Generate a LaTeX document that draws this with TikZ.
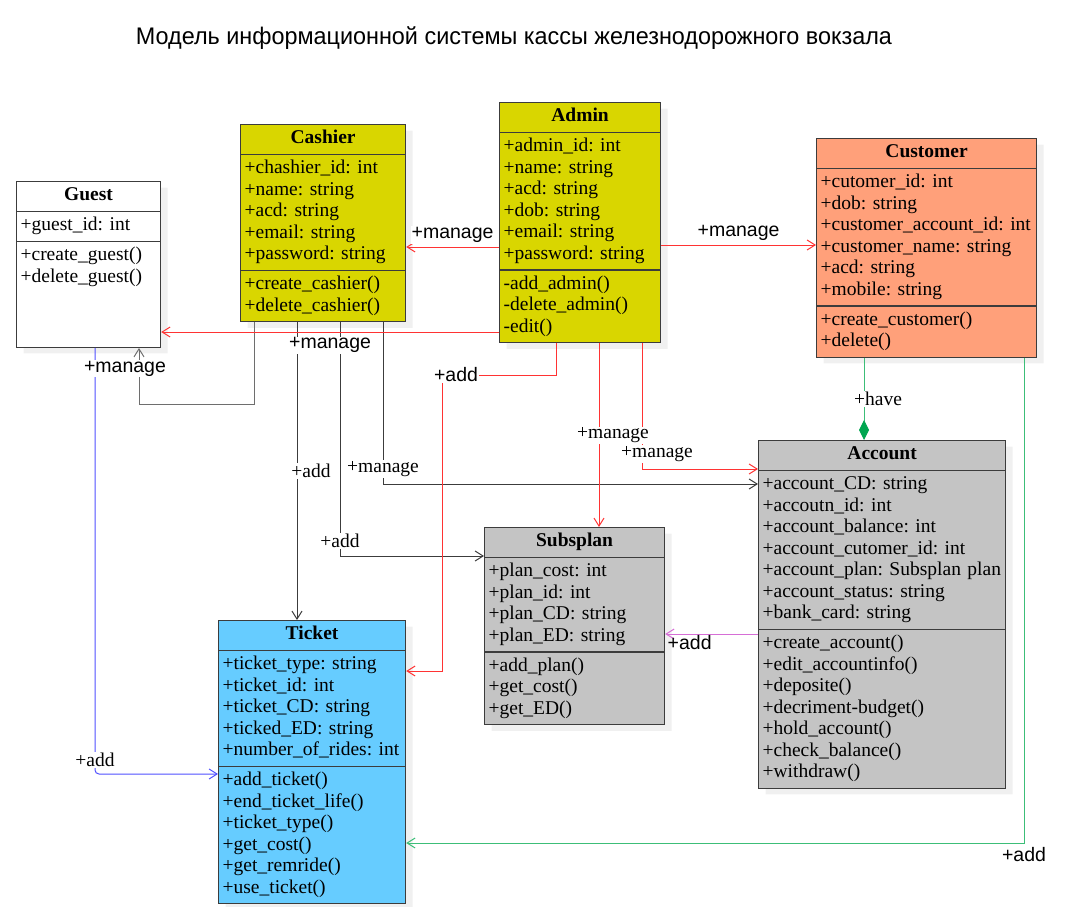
\documentclass[tikz,border=0pt]{standalone}
\usepackage{fontspec}
\setmainfont{Liberation Serif}
\setsansfont{Liberation Sans}
\usepackage{graphicx}
\usetikzlibrary{arrows.meta,shapes.multipart,shadows,calc}
\frenchspacing
\definecolor{olive1}{RGB}{217,214,0}
\definecolor{salmon1}{RGB}{255,160,122}
\definecolor{grey1}{RGB}{196,196,196}
\definecolor{sky1}{RGB}{102,204,255}
\definecolor{red1}{RGB}{255,51,51}
\definecolor{green1}{RGB}{60,190,120}
\definecolor{green2}{RGB}{0,166,80}
\definecolor{blue1}{RGB}{80,80,255}
\definecolor{pink1}{RGB}{214,110,214}
\definecolor{dark1}{RGB}{60,60,60}
\definecolor{dark2}{RGB}{110,110,110}
\tikzstyle{umlcls}=[draw=dark1,line width=1.2pt,rectangle split,rectangle split parts=3,
               anchor=north west,inner xsep=4pt,inner ysep=3.6pt,align=left,
               font=\fontsize{19.5}{21.5}\selectfont,
               drop shadow={shadow xshift=7pt,shadow yshift=-6pt,fill=black!6,opacity=1}]
\tikzstyle{lbl}=[fill=white,text=black,inner sep=1pt,font=\fontsize{19.5}{21.5}\selectfont]
\tikzstyle{lbls}=[lbl,font=\sffamily\fontsize{19.5}{21.5}\selectfont]
\tikzstyle{assoc}=[line width=1pt,-{Straight Barb[length=8pt,width=10pt]}]
\newcommand{\ctitle}[1]{\makebox[\linewidth]{\textbf{#1}}\strut}

\begin{document}
\begin{tikzpicture}[x=1pt,y=-1pt]
  \useasboundingbox (0,0) rectangle (1071,907);
  \node[font=\sffamily\fontsize{24}{28}\selectfont] (title) at (514,38)
    {\resizebox{756pt}{\height}{Модель информационной системы кассы железнодорожного вокзала}};

  % classes
  \node[umlcls,fill=white,text width=136pt] (guest) at (16,181)
    {\ctitle{Guest}
     \nodepart{two}\strut+guest\_id: int\strut
     \nodepart{three}\strut+create\_guest()\\+delete\_guest()\rule[-61pt]{0pt}{1pt}};
  \node[umlcls,fill=olive1,text width=157pt] (cashier) at (240,124)
    {\ctitle{Cashier}
     \nodepart{two}\strut+chashier\_id: int\\+name: string\\+acd: string\\+email: string\\+password: string\strut
     \nodepart{three}\strut+create\_cashier()\\+delete\_cashier()\strut};
  \node[umlcls,fill=olive1,text width=153pt] (admin) at (499,102)
    {\ctitle{Admin}
     \nodepart{two}\strut+admin\_id: int\\+name: string\\+acd: string\\+dob: string\\+email: string\\+password: string\strut
     \nodepart{three}\strut-add\_admin()\\-delete\_admin()\\-edit()\strut};
  \node[umlcls,fill=salmon1,text width=212pt] (customer) at (816,138)
    {\ctitle{Customer}
     \nodepart{two}\strut+cutomer\_id: int\\+dob: string\\+customer\_account\_id:~int\\+customer\_name: string\\+acd: string\\+mobile: string\strut
     \nodepart{three}\strut+create\_customer()\\+delete()\strut};
  \node[umlcls,fill=grey1,text width=239pt] (account) at (758,440)
    {\ctitle{Account}
     \nodepart{two}\strut+account\_CD: string\\+accoutn\_id: int\\+account\_balance: int\\+account\_cutomer\_id: int\\+account\_plan:~Subsplan~plan\\+account\_status: string\\+bank\_card: string\strut
     \nodepart{three}\strut+create\_account()\\+edit\_accountinfo()\\+deposite()\\+decriment-budget()\\+hold\_account()\\+check\_balance()\\+withdraw()\strut};
  \node[umlcls,fill=grey1,text width=172pt] (subsplan) at (484,527)
    {\ctitle{Subsplan}
     \nodepart{two}\strut+plan\_cost: int\\+plan\_id: int\\+plan\_CD: string\\+plan\_ED: string\strut
     \nodepart{three}\strut+add\_plan()\\+get\_cost()\\+get\_ED()\strut};
  \node[umlcls,fill=sky1,text width=179pt] (ticket) at (218,620)
    {\ctitle{Ticket}
     \nodepart{two}\strut+ticket\_type: string\\+ticket\_id: int\\+ticket\_CD: string\\+ticked\_ED: string\\+number\_of\_rides:~int\strut
     \nodepart{three}\strut+add\_ticket()\\+end\_ticket\_life()\\+ticket\_type()\\+get\_cost()\\+get\_remride()\\+use\_ticket()\strut};

  % cashier associations
  \draw[assoc,dark1] (cashier.south -| 297,0) -- (ticket.north -| 297,0)
    node[lbl,midway,xshift=14pt] (l5) {+add};
  \draw[assoc,dark1] (cashier.south -| 340,0) |- (subsplan.west |- 0,556)
    node[lbl,pos=0.5,yshift=15pt] (l6) {+add};
  \draw[assoc,dark1] (cashier.south -| 383,0) |- (account.west |- 0,484)
    node[lbl,pos=0.5,yshift=15pt] (l7) {+manage};
  \draw[assoc,blue1,rounded corners=4pt] (guest.south -| 95,0) |- (ticket.west |- 0,774)
    node[lbl,pos=0.5,yshift=14pt] (l11) {+add};
  \draw[assoc,dark2] (cashier.south -| 254,0) |- (139,404) -- (guest.south -| 139,0)
    node[lbls,pos=0.63,xshift=-14pt] (l4) {+manage};

  % admin associations
  \draw[assoc,red1] (admin.west |- 0,247) -- (cashier.east |- 0,247)
    node[lbls,midway,above=3pt] (l1) {+manage};
  \draw[assoc,red1] (admin.east |- 0,245) -- (customer.west |- 0,245)
    node[lbls,midway,above=3pt] (l2) {+manage};
  \draw[assoc,red1] (admin.west |- 0,332) -- (guest.east |- 0,332)
    node[lbls,midway,below=4pt] (l3) {+manage};
  \draw[assoc,red1] (admin.south -| 556,0) |- (442,375)
    node[lbls,xshift=14pt] (l8) {+add} |- (ticket.east |- 0,671);
  \draw[assoc,red1] (admin.south -| 642,0) |- (account.west |- 0,469)
    node[lbl,pos=0.5,xshift=15pt,yshift=15pt] (l10) {+manage};
  \draw[assoc,red1] (admin.south -| 599,0) -- (subsplan.north -| 599,0)
    node[lbl,midway,xshift=14pt] (l9) {+manage};

  % customer and account
  \draw[line width=1pt,green1,-{Diamond[length=20pt,width=10pt,fill=green2,color=green2]}]
    (customer.south -| 864,0) -- (account.north -| 864,0)
    node[lbl,midway,xshift=14pt] (l12) {+have};
  \draw[assoc,green1] (customer.south -| 1024,0) |- (ticket.east |- 0,843)
    node[lbls,pos=0.5,below=3pt] (l13) {+add};
  \draw[assoc,pink1] (account.west |- 0,634) -- (subsplan.east |- 0,634)
    node[lbls,fill=none,pos=1,anchor=north west,xshift=1pt] (l14) {+add};
\end{tikzpicture}
\end{document}
